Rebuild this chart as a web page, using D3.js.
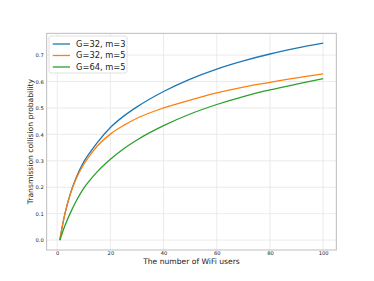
<!DOCTYPE html>
<html>
<head>
<meta charset="utf-8">
<script src="https://cdn.jsdelivr.net/npm/d3@7"></script>
<style>
body { margin: 0; background: #fff; }
text { font-family: "DejaVu Sans", sans-serif; fill: #222; }
</style>
</head>
<body>
<script>
// number of users
var users = [1, 2, 3, 5, 7, 10, 12, 15, 20, 25, 30, 40, 50, 60, 70, 80, 90, 100];
var g32m3 = [0, 0.057, 0.104, 0.178, 0.233, 0.296, 0.327, 0.368, 0.426, 0.469, 0.504, 0.562, 0.609, 0.647, 0.678, 0.704, 0.726, 0.745];
var g32m5 = [0, 0.057, 0.104, 0.176, 0.229, 0.287, 0.317, 0.355, 0.401, 0.434, 0.461, 0.500, 0.530, 0.557, 0.579, 0.597, 0.614, 0.629];
var g64m5 = [0, 0.030, 0.057, 0.104, 0.145, 0.197, 0.223, 0.258, 0.306, 0.346, 0.379, 0.433, 0.477, 0.513, 0.543, 0.568, 0.590, 0.611];
var seriesNames = ["G=32, m=3", "G=32, m=5", "G=64, m=5"];
var colors = ["#1f77b4", "#ff7f0e", "#2ca02c"];
var xTicks = [0, 20, 40, 60, 80, 100];
var yTicks = [0, 0.1, 0.2, 0.3, 0.4, 0.5, 0.6, 0.7];

var width = 374, height = 281;
var plotL = 46.7, plotR = 336.3, plotT = 33.3, plotB = 250;

var series = [g32m3, g32m5, g64m5].map(function(vals, i) {
	return { name: seriesNames[i], color: colors[i],
		values: users.map(function(u, j) { return { n: u, p: vals[j] }; }) };
});

var x = d3.scaleLinear().domain([-3.95, 104.95]).range([plotL, plotR]);
var y = d3.scaleLinear().domain([-0.0373, 0.7823]).range([plotB, plotT]);

var svg = d3.select("body").append("svg")
	.attr("width", width)
	.attr("height", height);

// grid
svg.append("g").selectAll("line").data(xTicks).enter().append("line")
	.attr("x1", function(d) { return x(d); }).attr("x2", function(d) { return x(d); })
	.attr("y1", plotT).attr("y2", plotB)
	.attr("stroke", "#e6e6e6").attr("stroke-width", 0.8);
svg.append("g").selectAll("line").data(yTicks).enter().append("line")
	.attr("y1", function(d) { return y(d); }).attr("y2", function(d) { return y(d); })
	.attr("x1", plotL).attr("x2", plotR)
	.attr("stroke", "#e6e6e6").attr("stroke-width", 0.8);

// axes
var xAxis = svg.append("g")
	.attr("transform", "translate(0," + plotB + ")")
	.call(d3.axisBottom(x).tickValues(xTicks).tickSize(0).tickPadding(1.5).tickFormat(d3.format("d")));
var yAxis = svg.append("g")
	.attr("transform", "translate(" + plotL + ",0)")
	.call(d3.axisLeft(y).tickValues(yTicks).tickSize(0).tickPadding(3).tickFormat(d3.format(".1f")));
[xAxis, yAxis].forEach(function(a) {
	a.select(".domain").remove();
	a.selectAll("text").style("font-size", "5.2px").style("font-family", "DejaVu Sans").attr("fill", "#333");
});

svg.append("rect")
	.attr("x", plotL).attr("y", plotT)
	.attr("width", plotR - plotL).attr("height", plotB - plotT)
	.attr("fill", "none").attr("stroke", "#b5b5b5").attr("stroke-width", 0.9);

// lines
var line = d3.line()
	.x(function(d) { return x(d.n); })
	.y(function(d) { return y(d.p); })
	.curve(d3.curveMonotoneX);

svg.append("g").selectAll("path").data(series).enter().append("path")
	.attr("d", function(d) { return line(d.values); })
	.attr("fill", "none")
	.attr("stroke", function(d) { return d.color; })
	.attr("stroke-width", 1.3);

// labels
svg.append("text")
	.attr("x", (plotL + plotR) / 2).attr("y", 264)
	.attr("text-anchor", "middle")
	.style("font-size", "7.6px")
	.text("The number of WiFi users");
svg.append("text")
	.attr("transform", "translate(33," + (plotT + plotB) / 2 + ") rotate(-90)")
	.attr("text-anchor", "middle")
	.style("font-size", "7.6px")
	.text("Transmission collision probability");

// legend
var legend = svg.append("g");
legend.append("rect")
	.attr("x", 49).attr("y", 36).attr("width", 78).attr("height", 37)
	.attr("rx", 2).attr("fill", "#fff").attr("fill-opacity", 0.85)
	.attr("stroke", "#d8d8d8").attr("stroke-width", 0.8);
var items = legend.selectAll("g.item").data(series).enter().append("g")
	.attr("transform", function(d, i) { return "translate(0," + (44 + i * 11.5) + ")"; });
items.append("line")
	.attr("x1", 52.7).attr("x2", 70)
	.attr("stroke", function(d) { return d.color; })
	.attr("stroke-width", 1.3);
items.append("text")
	.attr("x", 76).attr("dy", "0.35em")
	.style("font-size", "8.3px")
	.text(function(d) { return d.name; });
</script>
</body>
</html>
